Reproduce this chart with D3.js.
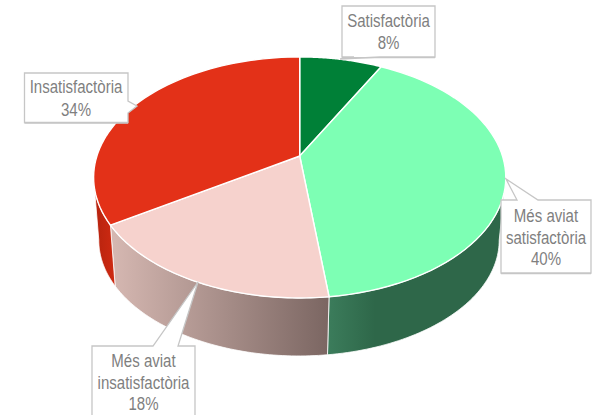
<!DOCTYPE html>
<html>
<head>
<meta charset="utf-8">
<script src="https://cdn.jsdelivr.net/npm/d3@7/dist/d3.min.js"></script>
<style>html,body{margin:0;padding:0;background:#fff}svg{display:block}</style>
</head>
<body>
<svg id="c" width="594" height="415"></svg>
<script>
const categories = ["Satisfactòria", "Més aviat satisfactòria", "Més aviat insatisfactòria", "Insatisfactòria"];
const values = [7.7, 40.4, 17.9, 34];
const topColors = ["#008037", "#7DFFB4", "#F6D2CD", "#E33118"];
const wallStops = [
  ["#00602a", "#00602a"],
  ["#3c7d5c", "#2e6749"],
  ["#d6b8b2", "#7b6662"],
  ["#b5230e", "#cf2a12"]
];
const labelLines = [["Satisfactòria", "8%"], ["Més aviat", "satisfactòria", "40%"], ["Més aviat", "insatisfactòria", "18%"], ["Insatisfactòria", "34%"]];
const labelBoxes = [
  {x: 342, y: 6, w: 93, h: 51, cx: 388.5, base: 27, step: 22, tip: [340, 59], side: "bottom", from: 354, to: 380},
  {x: 501, y: 200, w: 90, h: 73, cx: 546, base: 222, step: 21.5, tip: [506, 179], side: "top", from: 517, to: 538},
  {x: 92, y: 346, w: 103, h: 75, cx: 143.5, base: 367, step: 21.5, tip: [198, 282], side: "top", from: 153, to: 178},
  {x: 24.5, y: 73, w: 103.5, h: 49.5, cx: 76, base: 93, step: 23, tip: [137, 106], side: "right", from: 101, to: 113}
];

const p = 0.178;
const topFace = {x0: 299.7, y0: 156, a: 202.8, b: 116.7};
const lowFace = {x0: 299, y0: 219.7, a: 197, b: 112};
const project = (f, th) => {
  const u = Math.sin(th), v = -Math.cos(th), w = 1 - p * v;
  return [f.x0 + f.a * u / w, f.y0 + f.b * v / w];
};
const samples = (a, b) => d3.range(0, 61).map(i => a + (b - a) * i / 60);
const line = d3.line();
const pieArcs = d3.pie().sort(null).value(d => d)(values);
const svg = d3.select("#c");
const defs = svg.append("defs");

const frontA = Math.acos(-p), frontB = 2 * Math.PI - frontA;

// side walls
pieArcs.forEach((d, i) => {
  const a = Math.max(d.startAngle, frontA), b = Math.min(d.endAngle, frontB);
  if (b <= a) return;
  const xs = samples(a, b).map(t => project(topFace, t)[0]).concat(samples(a, b).map(t => project(lowFace, t)[0]));
  const g = defs.append("linearGradient").attr("id", "w" + i).attr("gradientUnits", "userSpaceOnUse")
    .attr("x1", i === 1 ? 327 : d3.min(xs)).attr("x2", i === 1 ? 375 : d3.max(xs)).attr("y1", 0).attr("y2", 0);
  g.append("stop").attr("offset", 0).attr("stop-color", wallStops[i][0]);
  g.append("stop").attr("offset", 1).attr("stop-color", wallStops[i][1]);
  const pts = samples(a, b).map(t => project(topFace, t)).concat(samples(a, b).reverse().map(t => project(lowFace, t)));
  svg.append("path").attr("d", line(pts) + "Z").attr("fill", `url(#w${i})`).attr("stroke", "#fff").attr("stroke-width", 0.8);
});

// top slices
pieArcs.forEach((d, i) => {
  const pts = [[topFace.x0, topFace.y0]].concat(samples(d.startAngle, d.endAngle).map(t => project(topFace, t)));
  svg.append("path").attr("d", line(pts) + "Z").attr("fill", topColors[i]).attr("stroke", "#fff").attr("stroke-width", 1.4).attr("stroke-linejoin", "round");
});

// callouts
labelBoxes.forEach((b, i) => {
  const r = b.x + b.w, e = b.y + b.h;
  let pts;
  if (b.side === "top") pts = [[b.x, b.y], [b.from, b.y], b.tip, [b.to, b.y], [r, b.y], [r, e], [b.x, e]];
  else if (b.side === "bottom") pts = [[b.x, b.y], [r, b.y], [r, e], [b.to, e], b.tip, [b.from, e], [b.x, e]];
  else pts = [[b.x, b.y], [r, b.y], [r, b.from], b.tip, [r, b.to], [r, e], [b.x, e]];
  svg.append("path").attr("d", line(pts) + "Z").attr("fill", "#fff").attr("stroke", "#c6c6c6").attr("stroke-width", 1.3);
  svg.append("line").attr("x1", b.x).attr("x2", r).attr("y1", e + 0.7).attr("y2", e + 0.7).attr("stroke", "#c6c6c6").attr("stroke-width", 1.2);
  labelLines[i].forEach((t, j) => {
    svg.append("text").attr("transform", `translate(${b.cx},${b.base + j * b.step}) scale(0.94,1.12)`).attr("text-anchor", "middle")
      .attr("font-family", "'Liberation Sans', Arial, sans-serif").attr("font-size", 16).attr("fill", "#7f7f7f").text(t);
  });
});
</script>
</body>
</html>
